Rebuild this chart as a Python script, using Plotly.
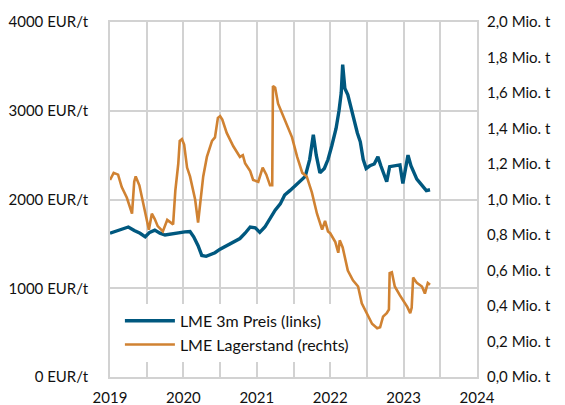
import plotly.graph_objects as go

# ---- data (time as decimal years) ----
price_t = [2019.00, 2019.08, 2019.16, 2019.25, 2019.33, 2019.41, 2019.48, 2019.54, 2019.61, 2019.68,
           2019.75, 2019.82, 2019.89, 2019.95, 2020.02, 2020.09, 2020.14, 2020.20, 2020.25, 2020.31,
           2020.36, 2020.43, 2020.50, 2020.57, 2020.63, 2020.70, 2020.77, 2020.84, 2020.91, 2020.98,
           2021.04, 2021.11, 2021.18, 2021.25, 2021.32, 2021.38, 2021.45, 2021.52, 2021.59, 2021.66,
           2021.72, 2021.77, 2021.81, 2021.86, 2021.92, 2021.97, 2022.02, 2022.08, 2022.12, 2022.15,
           2022.17, 2022.20, 2022.24, 2022.28, 2022.32, 2022.37, 2022.41, 2022.45, 2022.49, 2022.54,
           2022.60, 2022.65, 2022.69, 2022.73, 2022.77, 2022.81, 2022.88, 2022.95, 2022.99, 2023.03,
           2023.06, 2023.10, 2023.14, 2023.18, 2023.22, 2023.26, 2023.31, 2023.36]
price_eur = [1620, 1640, 1660, 1690, 1650, 1620, 1580, 1630, 1655, 1620,
             1600, 1610, 1620, 1630, 1635, 1640, 1580, 1480, 1370, 1360,
             1380, 1400, 1440, 1470, 1500, 1520, 1560, 1620, 1690, 1680,
             1630, 1690, 1790, 1880, 1950, 2050, 2100, 2150, 2200, 2260,
             2450, 2730, 2500, 2300, 2350, 2450, 2600, 2800, 3000, 3200,
             3520, 3250, 3180, 3050, 2900, 2750, 2650, 2450, 2350, 2380,
             2400, 2480, 2380, 2300, 2200, 2370, 2380, 2390, 2180, 2350,
             2500, 2380, 2300, 2230, 2190, 2150, 2100, 2110]

stock_t = [2019.00, 2019.05, 2019.11, 2019.16, 2019.23, 2019.30, 2019.33, 2019.35, 2019.40, 2019.45,
           2019.50, 2019.53, 2019.57, 2019.61, 2019.65, 2019.72, 2019.78, 2019.82, 2019.86, 2019.89,
           2019.93, 2019.95, 2019.98, 2020.01, 2020.05, 2020.09, 2020.16, 2020.20, 2020.23, 2020.27,
           2020.32, 2020.39, 2020.43, 2020.47, 2020.50, 2020.53, 2020.59, 2020.68, 2020.77, 2020.81,
           2020.84, 2020.91, 2020.95, 2021.02, 2021.08, 2021.13, 2021.18, 2021.21, 2021.22, 2021.25,
           2021.29, 2021.34, 2021.41, 2021.48, 2021.55, 2021.62, 2021.68, 2021.75, 2021.82, 2021.89,
           2021.93, 2021.97, 2022.00, 2022.07, 2022.11, 2022.13, 2022.17, 2022.24, 2022.31, 2022.38,
           2022.43, 2022.50, 2022.57, 2022.64, 2022.68, 2022.72, 2022.77, 2022.80, 2022.81, 2022.84,
           2022.88, 2022.95, 2023.01, 2023.05, 2023.09, 2023.11, 2023.13, 2023.18, 2023.25, 2023.29,
           2023.33, 2023.36]
stock_mio_t = [1.11, 1.15, 1.14, 1.07, 1.01, 0.92, 1.10, 1.13, 1.08, 0.98,
               0.87, 0.83, 0.92, 0.89, 0.85, 0.82, 0.885, 0.87, 0.86, 1.05,
               1.20, 1.33, 1.34, 1.31, 1.18, 1.13, 1.00, 0.87, 1.00, 1.13,
               1.24, 1.33, 1.35, 1.46, 1.47, 1.45, 1.375, 1.30, 1.24, 1.25,
               1.205, 1.16, 1.11, 1.10, 1.18, 1.14, 1.08, 1.08, 1.64, 1.63,
               1.54, 1.49, 1.41, 1.35, 1.24, 1.15, 1.13, 1.04, 0.92, 0.83,
               0.88, 0.82, 0.81, 0.76, 0.70, 0.77, 0.73, 0.60, 0.545, 0.51,
               0.415, 0.36, 0.30, 0.275, 0.28, 0.34, 0.36, 0.38, 0.585, 0.59,
               0.51, 0.46, 0.42, 0.395, 0.36, 0.39, 0.56, 0.53, 0.51, 0.47,
               0.53, 0.52]

year_ticks = [2019, 2020, 2021, 2022, 2023, 2024]
left_ticks = [0, 1000, 2000, 3000, 4000]
left_labels = ["0 EUR/t", "1000 EUR/t", "2000 EUR/t", "3000 EUR/t", "4000 EUR/t"]
right_ticks = [0.0, 0.2, 0.4, 0.6, 0.8, 1.0, 1.2, 1.4, 1.6, 1.8, 2.0]
right_labels = ["0,0 Mio. t", "0,2 Mio. t", "0,4 Mio. t", "0,6 Mio. t", "0,8 Mio. t", "1,0 Mio. t",
                "1,2 Mio. t", "1,4 Mio. t", "1,6 Mio. t", "1,8 Mio. t", "2,0 Mio. t"]

name_price = "LME 3m Preis (links)"
name_stock = "LME Lagerstand (rechts)"

BLUE = "#00587f"
ORANGE = "#d08232"
GRID = "#d2d2d2"
FONT = "Lato"

fig = go.Figure()
fig.add_trace(go.Scatter(x=price_t, y=price_eur, name=name_price, mode="lines",
                         line=dict(color=BLUE, width=3.4), yaxis="y"))
fig.add_trace(go.Scatter(x=stock_t, y=stock_mio_t, name=name_stock, mode="lines",
                         line=dict(color=ORANGE, width=2.6), yaxis="y2"))

# the page body adds an 8px offset, margins compensate for it
fig.update_layout(
    width=565, height=405,
    margin=dict(l=102, r=96, t=14, b=36, autoexpand=False),
    paper_bgcolor="white", plot_bgcolor="white",
    font=dict(family=FONT, size=15, color="#111111"),
    showlegend=True,
    legend=dict(x=0.027, y=0.206, xanchor="left", yanchor="top",
                bgcolor="white", borderwidth=0, font=dict(size=16),
                tracegroupgap=0, itemwidth=50),
    xaxis=dict(range=[2019, 2024], tickmode="array", tickvals=year_ticks,
               ticktext=[str(y) for y in year_ticks], automargin=False,
               showgrid=True, gridcolor=GRID, gridwidth=1.5,
               minor=dict(dtick=0.5, tick0=2019, showgrid=True, gridcolor=GRID, gridwidth=1.5),
               showline=True, linecolor=GRID, linewidth=1.5, mirror=True,
               ticks="", ticklabelstandoff=6, zeroline=False),
    yaxis=dict(range=[0, 4000], tickmode="array", tickvals=left_ticks, ticktext=left_labels,
               showgrid=True, gridcolor=GRID, gridwidth=1.5, automargin=False,
               showline=True, linecolor=GRID, linewidth=1.5, mirror=True,
               ticks="", ticklabelstandoff=17, zeroline=False),
    yaxis2=dict(range=[0, 2.0], tickmode="array", tickvals=right_ticks, ticktext=right_labels,
                overlaying="y", side="right", showgrid=False, showline=False, automargin=False,
                ticks="", ticklabelstandoff=9, zeroline=False),
)

fig.write_html("out.html")
